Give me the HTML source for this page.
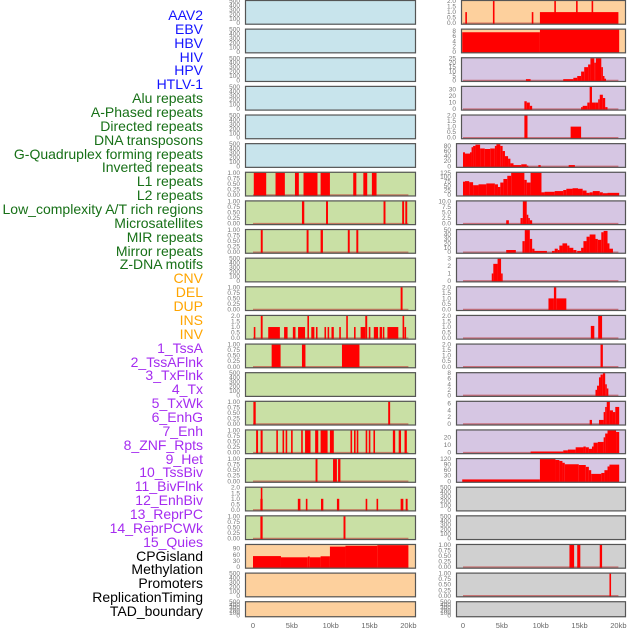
<!DOCTYPE html>
<html><head><meta charset="utf-8">
<style>
body{margin:0;background:#fff;width:630px;height:630px;overflow:hidden;font-family:"Liberation Sans",sans-serif;}
#labels div{position:absolute;right:427px;font-size:14px;line-height:14px;white-space:nowrap;}
</style></head>
<body>
<div id="labels"></div>
<svg id="chart" width="630" height="630" style="position:absolute;left:0;top:0"></svg>
<script>
// ---------- label data ----------
const trackNames = ["AAV2","EBV","HBV","HIV","HPV","HTLV-1","Alu repeats","A-Phased repeats","Directed repeats","DNA transposons","G-Quadruplex forming repeats","Inverted repeats","L1 repeats","L2 repeats","Low_complexity A/T rich regions","Microsatellites","MIR repeats","Mirror repeats","Z-DNA motifs","CNV","DEL","DUP","INS","INV","1_TssA","2_TssAFlnk","3_TxFlnk","4_Tx","5_TxWk","6_EnhG","7_Enh","8_ZNF_Rpts","9_Het","10_TssBiv","11_BivFlnk","12_EnhBiv","13_ReprPC","14_ReprPCWk","15_Quies","CPGisland","Methylation","Promoters","ReplicationTiming","TAD_boundary"];
const trackGroups = [6,13,5,15,5];
const groupColors = ["#1414ff","#177017","#ffa500","#a52cf0","#000000"];
const xTicks = [0,5,10,15,20];
const xTickLabels = ["0","5kb","10kb","15kb","20kb"];

// ---------- left panel data (intervals: start kb, end kb, value) ----------
const leftBg = ["#c8e4ec","#c8e4ec","#c8e4ec","#c8e4ec","#c8e4ec","#c8e4ec","#c9e0a5","#c9e0a5","#c9e0a5","#c9e0a5","#c9e0a5","#c9e0a5","#c9e0a5","#c9e0a5","#c9e0a5","#c9e0a5","#c9e0a5","#c9e0a5","#c9e0a5","#fdd09d","#fdd09d","#fdd09d"];
const leftMax = [500,500,500,500,500,500,1,1,1,500,1,2,1,500,1,1,1,2,1,108,500,500];
const L6 = [[0.1,1.7,1],[2.9,4.1,1],[5.4,5.9,1],[6.5,8.3,1],[8.7,9.9,1],[12.9,13.3,1],[14.2,14.7,1],[15.3,15.9,1]];
const L7 = [[6.3,6.6,1],[9.4,9.65,1],[16.8,17.05,1],[19.2,19.45,1],[19.6,19.85,1]];
const L8 = [[1.0,1.25,1],[6.9,7.15,1],[8.7,9.0,1],[12.2,12.45,1],[13.3,13.55,1]];
const L10 = [[19.0,19.25,1]];
const L11 = [[0.1,0.3,1],[1.0,1.24,2],[1.96,3.46,1],[4.0,4.45,1],[5.13,5.47,1],[5.8,6.7,1],[7.0,7.2,2],[7.5,7.9,1],[8.1,8.3,1],[9.2,9.4,1],[9.6,9.8,1],[10.1,10.4,1],[11.1,11.3,1],[12.0,12.2,2],[13.0,13.2,1],[13.85,14.45,1],[14.45,14.7,2],[14.9,15.1,1],[15.55,16.1,1],[16.3,16.6,1],[16.7,16.9,1],[17.3,18.7,1],[19.25,19.45,2],[19.5,19.7,1]];
const L12 = [[2.4,3.55,1],[6.3,6.75,1],[11.45,13.7,1]];
const L14 = [[0.05,0.35,1],[17.4,17.65,1]];
const L15 = [[0.4,0.65,1],[0.98,1.24,1],[3.0,3.2,1],[3.8,4.0,1],[4.2,4.4,1],[4.9,5.1,1],[6.2,6.4,1],[6.7,7.4,1],[8.0,8.4,1],[8.7,9.6,1],[9.9,10.4,1],[12.55,12.75,1],[13.0,13.2,1],[13.35,13.55,1],[14.5,14.7,1],[14.9,15.1,1],[15.5,15.7,1],[18.0,18.3,1],[18.75,19.05,1],[19.5,19.8,1]];
const L16 = [[8.05,8.3,1],[10.3,10.8,1],[10.95,11.25,1]];
const L17 = [[0.95,1.24,1],[1.0,1.15,2],[5.77,6.1,1],[6.8,7.0,1],[8.75,9.05,1],[10.8,11.1,1],[14.5,14.7,1],[15.9,16.1,1],[19.0,19.35,1],[19.65,19.9,1]];
const L18 = [[0.95,1.24,1],[11.65,11.9,1]];
const L19 = [[0,3.6,54],[3.6,7.05,48],[7.05,7.3,52],[7.3,8.7,48],[8.7,9.9,53],[9.9,11.9,100],[11.9,16.0,104],[16.0,20.0,107]];
const leftData = [[],[],[],[],[],[],L6,L7,L8,[],L10,L11,L12,[],L14,L15,L16,L17,L18,L19,[],[]];

// ---------- right panel data ----------
const rightBg = ["#fdd09d","#fdd09d","#d6c6e3","#d6c6e3","#d6c6e3","#d6c6e3","#d6c6e3","#d6c6e3","#d6c6e3","#d6c6e3","#d6c6e3","#d6c6e3","#d6c6e3","#d6c6e3","#d6c6e3","#d6c6e3","#d6c6e3","#d0d0d0","#d0d0d0","#d0d0d0","#d0d0d0","#d0d0d0"];
const rightMax = [2,8.5,25,34,2,87,125,10,50,3,2,2,2,8,6.5,29,120,500,500,1,1,500];
const R0 = [[0.3,0.45,1],[3.85,4.0,2],[8.85,9.0,1],[9.9,20.0,1],[11.75,11.9,2],[14.55,14.7,2],[16.55,16.7,2]];
const R1 = [[-0.1,9.9,7.5],[9.9,20.1,8.5]];
const R2 = [[8.1,8.7,1.5],[12.9,14.2,1.5],[14.2,14.7,3],[14.7,15.2,5],[15.2,15.6,10],[15.6,16.1,15],[16.1,16.4,18],[16.4,16.9,25],[16.9,17.1,20],[17.1,17.8,25],[17.8,18.0,15],[18.0,18.2,5],[18.2,18.4,2]];
const R3 = [[7.9,8.2,12],[8.2,8.6,10],[8.6,8.9,5],[15.2,15.4,3],[15.4,16.0,5],[16.0,16.3,10],[16.3,16.6,34],[16.6,17.0,10],[17.0,17.4,10],[17.4,17.6,15],[17.6,18.0,22],[18.0,18.3,17],[18.3,18.6,3]];
const R4 = [[7.9,8.3,2],[13.85,15.2,1]];
const R5 = [[0,0.26,55],[0.26,0.9,50],[0.9,1.1,55],[1.1,1.3,75],[1.3,1.6,80],[1.6,2.2,85],[2.2,2.8,70],[2.8,3.5,68],[3.5,4.1,70],[4.1,4.3,80],[4.3,4.8,87],[4.8,5.1,80],[5.1,5.4,60],[5.4,5.8,40],[5.8,6.1,30],[6.1,6.5,12],[6.5,7.5,5],[7.5,8.2,8],[8.2,8.4,3],[9.7,10,5],[13.6,14.4,5]];
const R6 = [[0,0.26,75],[0.26,0.8,78],[0.8,1.3,72],[1.3,2.0,55],[2.0,3.0,60],[3.0,4.1,65],[4.1,4.5,60],[4.5,4.8,45],[4.8,5.2,70],[5.2,5.7,90],[5.7,6.2,108],[6.2,7.9,125],[7.9,8.2,85],[8.2,8.7,70],[8.7,10.1,125],[10.1,10.5,15],[10.5,11.8,18],[11.8,12.9,22],[12.9,13.3,28],[13.3,14.1,35],[14.1,14.8,38],[14.8,15.4,35],[15.4,15.9,25],[15.9,16.3,12],[16.3,16.7,15],[16.7,17.6,22],[17.6,18.0,15],[18.0,18.6,10],[18.6,20.1,12]];
const R7 = [[5.56,5.9,1.5],[7.4,7.7,2.5],[7.7,8.2,10],[8.2,8.4,4],[8.4,8.6,2.5],[8.6,8.9,1.5]];
const R8 = [[5.56,6.8,5],[7.65,7.95,25],[7.95,8.6,50],[8.6,8.9,30],[8.9,9.2,8],[9.2,10.8,3],[11.45,11.8,3],[11.8,12.2,8],[12.2,12.4,5],[12.4,12.8,15],[12.8,13.4,20],[13.4,13.7,15],[13.7,14.2,10],[14.2,14.6,5],[14.7,15.2,3],[15.2,15.5,10],[15.5,15.9,25],[15.9,16.3,35],[16.3,17.05,40],[17.05,17.35,30],[17.35,17.8,28],[17.8,18.1,45],[18.1,18.6,48],[18.6,18.85,20],[18.85,19.3,8]];
const R9 = [[3.7,3.9,1],[3.9,4.45,2.3],[4.45,4.9,3],[4.9,5.1,1]];
const R10 = [[11.0,11.7,1],[11.7,12.0,2],[12.0,13.3,1]];
const R11 = [[16.45,16.9,1.1],[17.4,17.9,2]];
const R12 = [[17.7,18.0,2]];
const R13 = [[17.05,17.25,2],[17.25,17.5,3.5],[17.5,17.7,6.5],[17.7,18.0,7.5],[18.0,18.3,8],[18.3,18.5,4],[18.5,18.7,2.5]];
const R14 = [[16.3,16.6,1.2],[17.5,18.1,1.2],[18.1,18.3,3.5],[18.3,18.5,5],[18.5,18.9,6.5],[18.9,19.3,4],[19.3,19.6,3.5],[19.6,20.1,5]];
const R15 = [[8.7,12.9,1.5],[12.9,13.5,3],[13.5,14.5,4],[14.5,15.5,7],[15.5,15.8,8],[15.8,16.2,7],[16.2,16.6,5],[16.6,16.8,8],[16.8,17.35,13],[17.35,18.1,14],[18.1,18.3,20],[18.3,18.6,25],[18.6,19.7,29],[19.7,20.1,27]];
const R16 = [[-0.1,9.9,10],[9.9,11.9,120],[11.9,12.4,115],[12.4,12.8,110],[12.8,13.1,100],[13.1,14.9,92],[14.9,15.8,88],[15.8,16.2,78],[16.2,16.5,60],[16.5,17.8,40],[17.8,18.2,45],[18.2,18.6,60],[18.6,18.85,80],[18.85,20.1,90]];
const R19 = [[13.7,14.3,1],[14.7,15.1,1],[17.6,17.9,1]];
const R20 = [[18.85,19.05,1]];
const rightData = [R0,R1,R2,R3,R4,R5,R6,R7,R8,R9,R10,R11,R12,R13,R14,R15,R16,[],[],R19,R20,[]];

// ---------- layout ----------
const NS="http://www.w3.org/2000/svg";
const svg=document.getElementById('chart');
const pitch=28.63, panelH=24.7;
const KB=7.77;
function xL(kb){return 253+kb*KB;}
function xR(kb){return 463+kb*KB;}
function mk(tag,attrs,parent){const e=document.createElementNS(NS,tag);for(const k in attrs)e.setAttribute(k,attrs[k]);(parent||svg).appendChild(e);return e;}

// labels
const lab=document.getElementById('labels');
let gi=0,cnt=0;
trackNames.forEach((n,i)=>{
  const d=document.createElement('div');
  d.textContent=n;
  d.style.top=(8+i*13.86)+'px';
  d.style.color=groupColors[gi];
  
  
  lab.appendChild(d);
  cnt++; if(cnt>=trackGroups[gi]){gi++;cnt=0;}
});

function ticksFor(M){
  if(M>=300) return {v:[0,100,200,300,400,500],f:0,top:500};
  if(M===1) return {v:[0,0.25,0.5,0.75,1],f:2,top:1};
  if(M===2) return {v:[0,0.5,1,1.5,2],f:1,top:2};
  if(M===10) return {v:[0,2.5,5,7.5,10],f:1,top:10};
  if(M===3) return {v:[0,1,2,3],f:0,top:3};
  if(M===8.5||M===8) return {v:[0,2,4,6,8],f:0,top:M};
  if(M===25) return {v:[0,5,10,15,20,25],f:0,top:25};
  if(M===34) return {v:[0,10,20,30],f:0,top:34};
  if(M===87) return {v:[0,20,40,60,80],f:0,top:87};
  if(M===125) return {v:[0,25,50,75,100,125],f:0,top:125};
  if(M===50) return {v:[0,10,20,30,40,50],f:0,top:50};
  if(M===6.5) return {v:[0,2,4,6],f:0,top:6.5};
  if(M===29) return {v:[0,10,20],f:0,top:29};
  if(M===120) return {v:[0,30,60,90,120],f:0,top:120};
  if(M===108) return {v:[0,30,60,90],f:0,top:108};
  return {v:[0,M],f:0,top:M};
}

function drawPanel(side,i,bg,M,data){
  const top=i*pitch, h=(i===21)?16:panelH;
  const left = side==='L'?245:(i<=4?461:456);
  const right = side==='L'?416:626;
  const xf = side==='L'?xL:xR;
  const g=mk('g',{});
  
  
  mk('rect',{x:left,y:top,width:right-left,height:h,fill:bg},g);
  const t=ticksFor(M);
  const ymax=t.top;
  const y0=top+h-1.5, span=h-2.5;
  const yf=v=>y0-(v/ymax)*span;
  // ticks
  t.v.forEach(v=>{
    const tx=mk('text',{x:left-5,y:yf(v)+2,'font-size':6.5,fill:'#777','text-anchor':'end'},g);
    tx.textContent=v.toFixed(t.f);
    
    
  });
  if(data.length){
    mk('line',{x1:xf(0),x2:xf(20),y1:y0,y2:y0,stroke:'rgba(190,40,40,0.55)','stroke-width':1.5},g);
  }
  data.forEach(d=>{
    const x1=xf(d[0]), x2=xf(d[1]);
    const w=Math.max(1.6,x2-x1);
    const yt=Math.max(top,yf(d[2]));
    const r=mk('rect',{x:x1,y:yt,width:w,height:y0+0.8-yt,fill:'#ff0000'},g);
    
    
  });
  mk('rect',{x:left+0.5,y:top+0.5,width:right-left-1,height:h-1,fill:'none',stroke:'#555','stroke-width':1.2},g);
}
for(let i=0;i<22;i++){
  drawPanel('L',i,leftBg[i],leftMax[i],leftData[i]);
  drawPanel('R',i,rightBg[i],rightMax[i],rightData[i]);
}
// x axes
[xL,xR].forEach(f=>{
  xTicks.forEach((k,j)=>{
    const tx=mk('text',{x:f(k),y:628,'font-size':7.5,fill:'#666','text-anchor':'middle'});
    tx.textContent=xTickLabels[j];
    
    
  });
});
</script>
</body></html>
